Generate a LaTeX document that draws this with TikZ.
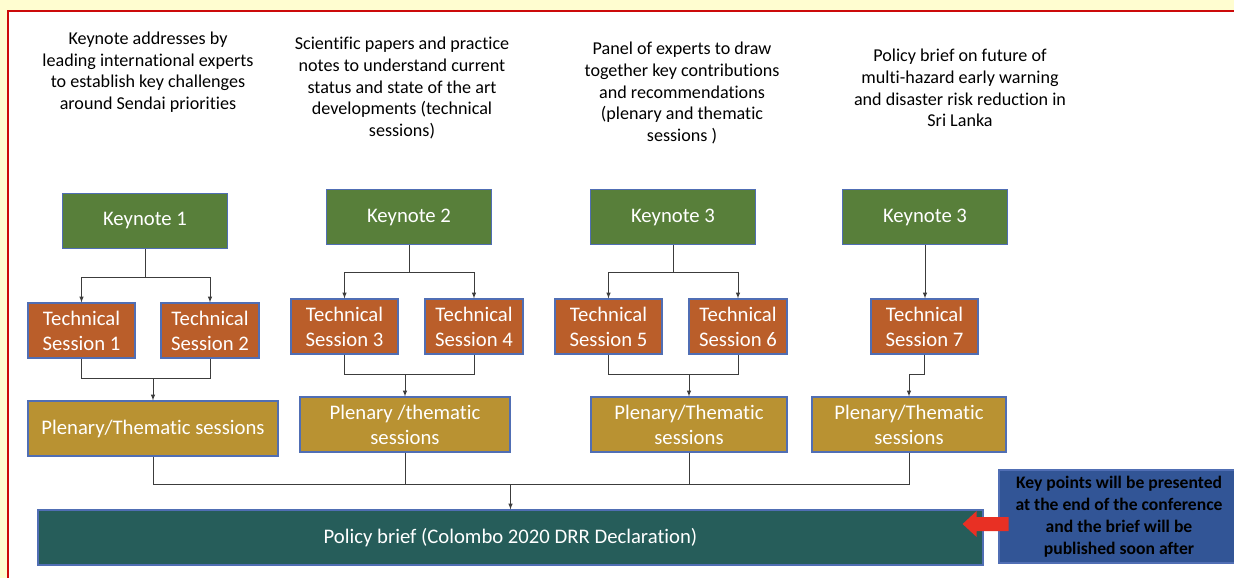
\documentclass[tikz,border=0pt]{standalone}
\usepackage{fontspec}
\setmainfont[Ligatures=NoCommon]{Carlito}
\usepackage{xcolor}
\usetikzlibrary{calc}
\usetikzlibrary{arrows}
\tikzset{>=latex}

\definecolor{bgyellow}{RGB}{255,253,208}
\definecolor{framered}{RGB}{204,10,10}
\definecolor{keygreen}{RGB}{88,127,58}
\definecolor{techorange}{RGB}{186,94,42}
\definecolor{plengold}{RGB}{185,146,50}
\definecolor{briefteal}{RGB}{38,93,90}
\definecolor{noteblue}{RGB}{50,85,150}
\definecolor{boxline}{RGB}{80,110,180}
\definecolor{arrowred}{RGB}{232,48,36}
\definecolor{linegray}{RGB}{60,60,60}

\tikzset{
	box/.style={draw=boxline, line width=1.2pt, text=white, align=center,
		inner sep=0pt, minimum height=55pt,
		font=\fontsize{20.7}{25}\selectfont},
	keynote/.style={box, fill=keygreen, minimum width=165pt},
	techbox/.style={box, fill=techorange},
	plenbox/.style={box, fill=plengold},
	heading/.style={align=center, font=\fontsize{18.1}{21.6}\selectfont},
	link/.style={line width=1pt, draw=linegray},
}

\begin{document}
\begin{tikzpicture}[x=1pt, y=-1pt]
	
	\pgfmathsetmacro{\W}{1234}
	\pgfmathsetmacro{\H}{578}
	\pgfmathsetmacro{\tw}{107}
	\pgfmathsetmacro{\nw}{98}
	
	\useasboundingbox (0,0) rectangle (\W,\H);
	
	% Sfondo
	\fill[bgyellow] (0,0) rectangle (\W,\H);
	\fill[white] (8,11) rectangle (\W,\H);
	\draw[framered, line width=2.5pt] (8,\H+5) -- (8,11) -- (\W+5,11);
	
	%% Titoli
	\node[heading] (h1) at (148,72) {Keynote addresses by\\leading international experts\\to establish key challenges\\around Sendai priorities};
	\node[heading] (h2) at (402,88) {Scientific papers and practice\\notes to understand current\\status and state of the art\\developments (technical\\sessions)};
	\node[heading] (h3) at (682,93) {Panel of experts to draw\\together key contributions\\and recommendations\\(plenary and thematic\\sessions )};
	\node[heading] (h4) at (960,88) {Policy brief on future of\\multi-hazard early warning\\and disaster risk reduction in\\Sri Lanka};
	
	% Keynote
	\node[keynote] (k1) at (145,221) {Keynote 1};
	\node[keynote] (k2) at (409,217) {Keynote 2};
	\node[keynote] (k3) at (673,217) {Keynote 3};
	\node[keynote] (k4) at (925,217) {Keynote 3};
	
	% Sessioni tecniche
	\node[techbox, minimum width=\tw] (ts1) at (81.5,330.5) {Technical\\Session 1};
	\node[techbox, minimum width=\nw] (ts2) at (210,330.5) {Technical\\Session 2};
	\node[techbox, minimum width=\tw] (ts3) at (344.5,326.5) {Technical\\Session 3};
	\node[techbox, minimum width=\nw] (ts4) at (474,326.5) {Technical\\Session 4};
	\node[techbox, minimum width=\tw] (ts5) at (608.5,326.5) {Technical\\Session 5};
	\node[techbox, minimum width=\nw] (ts6) at (738,326.5) {Technical\\Session 6};
	\node[techbox, minimum width=\tw] (ts7) at (924.5,326.5) {Technical\\Session 7};
	
	% Plenarie
	\node[plenbox, minimum width=250] (p1) at (153,428.5) {Plenary/Thematic sessions};
	\node[plenbox, minimum width=210] (p2) at (405,424.5) {Plenary /thematic\\sessions};
	\node[plenbox, minimum width=196] (p3) at (689,424.5) {Plenary/Thematic\\sessions};
	\node[plenbox, minimum width=194] (p4) at (909,424.5) {Plenary/Thematic\\sessions};
	
	% Policy brief
	\node[box, fill=briefteal, minimum width=945] (pb) at (510.5,537.5) {Policy brief (Colombo 2020 DRR Declaration)};
	\node[box, fill=noteblue, text=black, minimum width=240, minimum height=93,
		font=\bfseries\fontsize{17.6}{22}\selectfont] (note) at (1119,516.5)
	{Key points will be presented\\at the end of the conference\\and the brief will be\\published soon after};
	
	%% Collegamenti keynote
	\begin{scope}[link]
	\draw (k1.south) -- ++(0,28) coordinate (kb1);
	\draw[->] (kb1) -| (ts1.north);
	\draw[->] (kb1) -| (ts2.north);
	\draw (k2.south) -- ++(0,27) coordinate (kb2);
	\draw[->] (kb2) -| (ts3.north);
	\draw[->] (kb2) -| (ts4.north);
	\draw (k3.south) -- ++(0,27) coordinate (kb3);
	\draw[->] (kb3) -| (ts5.north);
	\draw[->] (kb3) -| (ts6.north);
	\draw[->] (k4.south) -- (k4.south |- ts7.north);
	\end{scope}
	
	%% Collegamenti sessioni
	\begin{scope}[link]
	\draw (ts1.south) -- ++(0,20) coordinate (j1) -| (ts2.south);
	\draw[->] (p1.north |- j1) -- (p1.north);
	\draw (ts3.south) -- ++(0,20) coordinate (j2) -| (ts4.south);
	\draw[->] (p2.north |- j2) -- (p2.north);
	\draw (ts5.south) -- ++(0,20) coordinate (j3) -| (ts6.south);
	\draw[->] (p3.north |- j3) -- (p3.north);
	\draw[->] (ts7.south) -- ++(0,20) -| (p4.north);
	\end{scope}
	
	%% Verso il policy brief
	\coordinate (bus) at ($(p1.south)+(0,28)$);
	\begin{scope}[link]
	\draw (p1.south) -- (p1.south |- bus) -- (p4.south |- bus) -- (p4.south);
	\foreach \p in {p2,p3}
	{
	\draw (\p.south) -- (\p.south |- bus);
	}
	\draw[->] (pb.north |- bus) -- (pb.north);
	\end{scope}
	
	% Freccia rossa
	\fill[arrowred, shift={(pb.east)}] 
	(25,-20.5) -- (-7,-20.5) -- (-7,-26.5) -- (-21,-13.5) -- (-7,-0.5) -- (-7,-6.5) -- (25,-6.5) -- cycle;
	
\end{tikzpicture}
\end{document}
